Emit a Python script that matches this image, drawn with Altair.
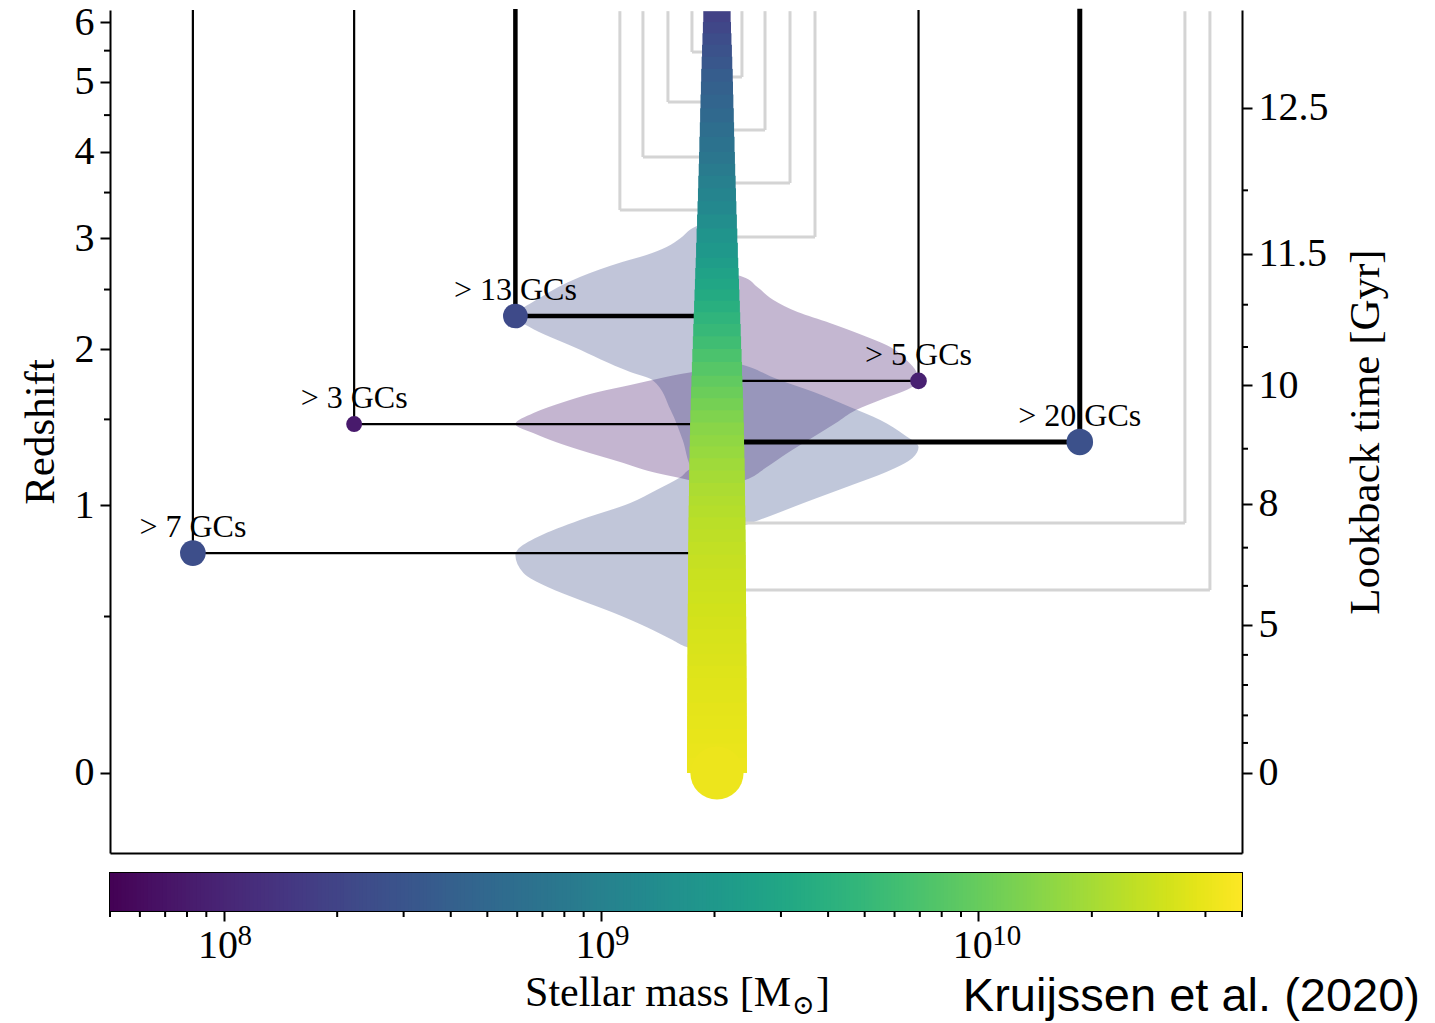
import numpy as np
import pandas as pd
import altair as alt

# ---------------- data ----------------
# Main progenitor: redshift samples down the trunk and log10 stellar mass there
trunk_z = [6.2, 6.0, 5.8, 5.6, 5.4, 5.2, 5.0, 4.8, 4.6, 4.4, 4.2, 4.0, 3.85, 3.7, 3.55,
           3.4, 3.25, 3.1, 2.95, 2.8, 2.7, 2.6, 2.5, 2.4, 2.3, 2.2, 2.1, 2.0, 1.9, 1.8,
           1.72, 1.64, 1.56, 1.48, 1.40, 1.33, 1.26, 1.19, 1.12, 1.05, 1.0, 0.94, 0.88,
           0.82, 0.76, 0.70, 0.65, 0.60, 0.55, 0.50, 0.45, 0.40, 0.36, 0.32, 0.28, 0.24,
           0.20, 0.16, 0.12, 0.08, 0.04, 0.0]
trunk_logm = [8.25, 8.30, 8.36, 8.42, 8.48, 8.54, 8.59, 8.64, 8.69, 8.74, 8.80, 8.86, 8.90,
              8.96, 9.01, 9.07, 9.13, 9.20, 9.27, 9.34, 9.39, 9.45, 9.50, 9.56, 9.62, 9.68,
              9.74, 9.81, 9.88, 9.94, 10.00, 10.05, 10.10, 10.15, 10.19, 10.22, 10.255,
              10.285, 10.315, 10.34, 10.36, 10.38, 10.40, 10.42, 10.435, 10.45, 10.465,
              10.475, 10.49, 10.50, 10.515, 10.525, 10.535, 10.545, 10.555, 10.565, 10.575,
              10.585, 10.59, 10.60, 10.61, 10.62]

# Accreted progenitors, left to right in the tree
prog_gcs = [7, 3, 13, 5, 20]
prog_slot = [-3.25, -2.25, -1.25, 1.25, 2.25]
prog_z = [0.768, 1.470, 2.268, 1.762, 1.358]
prog_mass = [2.5e8, 8.0e7, 2.3e8, 9.0e7, 2.7e8]

# Accretion-redshift probability densities, normalised to their peak
pdf_7gc_z = [1.239, 1.204, 1.153, 1.082, 1.013, 0.926, 0.843, 0.782, 0.759, 0.679,
             0.619, 0.566, 0.514, 0.460, 0.4115, 0.386, 0.358]
pdf_7gc_w = [0, 0.12, 0.18, 0.30, 0.43, 0.68, 0.89, 0.99, 1.0, 0.96,
             0.84, 0.68, 0.51, 0.35, 0.22, 0.15, 0]
pdf_3gc_z = [1.879, 1.827, 1.812, 1.769, 1.733, 1.684, 1.615, 1.542, 1.470, 1.407,
             1.358, 1.309, 1.239, 1.181, 1.137, 1.093]
pdf_3gc_w = [0, 0.12, 0.18, 0.32, 0.43, 0.59, 0.76, 0.91, 1.0, 0.90,
             0.80, 0.68, 0.48, 0.32, 0.14, 0]
pdf_13gc_z = [3.213, 3.105, 3.000, 2.908, 2.828, 2.759, 2.616, 2.424, 2.260, 2.176,
              2.016, 1.827, 1.769, 1.562, 1.370, 1.193, 1.109]
pdf_13gc_w = [0, 0.12, 0.18, 0.25, 0.35, 0.47, 0.68, 0.88, 1.0, 0.93,
              0.71, 0.43, 0.32, 0.23, 0.17, 0.12, 0]
pdf_5gc_z = [2.682, 2.616, 2.523, 2.407, 2.302, 2.2095, 2.111, 2.016, 1.916, 1.827,
             1.7545, 1.712, 1.629, 1.562, 1.477, 1.382, 1.292, 1.204, 1.137, 1.093]
pdf_5gc_w = [0, 0.13, 0.20, 0.28, 0.40, 0.56, 0.72, 0.86, 0.94, 0.99,
             1.0, 0.96, 0.81, 0.69, 0.59, 0.47, 0.35, 0.24, 0.14, 0]
pdf_20gc_z = [1.931, 1.879, 1.769, 1.684, 1.582, 1.496, 1.401, 1.3275, 1.262, 1.181,
              1.109, 1.013, 0.926, 0.9015, 0.867]
pdf_20gc_w = [0, 0.13, 0.31, 0.48, 0.66, 0.81, 0.93, 1.0, 0.97, 0.84,
              0.67, 0.43, 0.21, 0.14, 0]

# Minor (GC-poor) branches
minor_slot = [-0.155, 0.155, -0.304, 0.298, -0.459, 0.453, -0.602, 0.608, 2.902, 3.057]
minor_z = [5.477, 5.071, 4.690, 4.292, 3.934, 3.613, 3.301, 3.011, 0.911, 0.607]

# Axis ticks
redshift_ticks = [0, 1, 2, 3, 4, 5, 6]
redshift_minor = [0.5, 1.5, 2.5, 3.5, 4.5, 5.5]
lookback_labels = ["0", "5", "8", "10", "11.5", "12.5"]
lookback_z = [0.0, 0.469, 1.010, 1.730, 2.842, 4.603]
lookback_minor_z = [0.081, 0.161, 0.256, 0.358, 0.624, 0.793, 1.317, 2.016, 2.365, 3.526]
mass_ticks = [1e8, 1e9, 1e10]
mass_exponents = ["8", "9", "10"]
mass_minor = [5e7, 6e7, 7e7, 8e7, 9e7, 2e8, 3e8, 4e8, 5e8, 6e8, 7e8, 8e8, 9e8,
              2e9, 3e9, 4e9, 5e9, 6e9, 7e9, 8e9, 9e9, 2e10, 3e10, 4e10, 5e10]

CREDIT = "Kruijssen et al. (2020)"

# ---------------- styling ----------------
W, H = 1132, 843
CB_H = 38
SERIF = "Liberation Serif"
Z_TOP = 6.2
PDF_REACH = 1.25
THICK = {13: 4.5, 20: 5.0}
THIN = 2.2

yscale = alt.Scale(type="symlog", constant=1, domain=[-0.2304, 6.222], nice=False, zero=False)
xscale = alt.Scale(domain=[-3.764, 3.256], nice=False, zero=False)
cscale = alt.Scale(type="log", domain=[5e7, 5e10], scheme="viridis")
color_enc = alt.Color("mass:Q", scale=cscale, legend=None)

# ---------------- tables ----------------
pdfs = {7: (pdf_7gc_z, pdf_7gc_w), 3: (pdf_3gc_z, pdf_3gc_w), 13: (pdf_13gc_z, pdf_13gc_w),
        5: (pdf_5gc_z, pdf_5gc_w), 20: (pdf_20gc_z, pdf_20gc_w)}


def pdf_table(g, s, m):
    zs, ws = pdfs[g]
    return pd.DataFrame({"z": zs,
                         "xe": [float(np.sign(s)) * PDF_REACH * w for w in ws],
                         "x0": 0.0, "mass": m}).sort_values("z")


grey_rows = []
for s, z in zip(minor_slot, minor_z):
    grey_rows.append({"x": s, "x2": s, "z": z, "z2": Z_TOP})
    grey_rows.append({"x": s, "x2": 0.0, "z": z, "z2": z})
grey_df = pd.DataFrame(grey_rows)

black_rows = []
for g, s, z in zip(prog_gcs, prog_slot, prog_z):
    lw = THICK.get(g, THIN)
    black_rows.append({"x": s, "x2": s, "z": z, "z2": Z_TOP, "lw": lw})
    black_rows.append({"x": s, "x2": 0.0, "z": z, "z2": z, "lw": lw})
black_df = pd.DataFrame(black_rows)

# each trunk piece runs two samples down so the next piece overdraws its lower half
n = len(trunk_z)
trunk_rows = []
for i in range(n - 1):
    lm = 0.5 * (trunk_logm[i] + trunk_logm[i + 1])
    trunk_rows.append({"x0": 0.0, "za": trunk_z[i], "zb": trunk_z[min(i + 2, n - 1)],
                       "logm": lm, "mass": 10 ** lm})
trunk_df = pd.DataFrame(trunk_rows)
cap_df = pd.DataFrame({"x0": [0.0], "z": [trunk_z[-1]], "mass": [10 ** trunk_logm[-1]]})

prog_df = pd.DataFrame({"slot": prog_slot, "z": prog_z, "mass": prog_mass,
                        "label": [f"> {g} GCs" for g in prog_gcs]})

# ---------------- main panel ----------------
frame_x = alt.Axis(orient="bottom", ticks=False, labels=False, grid=False, title=None,
                   domain=True, domainColor="black", domainWidth=2)

violins = []
for k, (g, s, m) in enumerate(zip(prog_gcs, prog_slot, prog_mass)):
    violins.append(
        alt.Chart(pdf_table(g, s, m)).mark_area(orient="horizontal", interpolate="monotone",
                                                 opacity=0.32).encode(
            y=alt.Y("z:Q", scale=yscale, axis=None),
            x=alt.X("xe:Q", scale=xscale, stack=False, axis=frame_x if k == 0 else None),
            x2=alt.X2("x0:Q"),
            color=color_enc,
        )
    )

grey = alt.Chart(grey_df).mark_rule(color="#d4d4d4", strokeWidth=3).encode(
    x=alt.X("x:Q", scale=xscale, axis=None), x2="x2:Q",
    y=alt.Y("z:Q", scale=yscale, axis=None), y2="z2:Q",
)

black = alt.Chart(black_df).mark_rule(color="black", strokeCap="square").encode(
    x=alt.X("x:Q", scale=xscale, axis=None), x2="x2:Q",
    y=alt.Y("z:Q", scale=yscale, axis=None), y2="z2:Q",
    strokeWidth=alt.StrokeWidth("lw:Q", scale=None, legend=None),
)

trunk = alt.Chart(trunk_df).mark_rule(strokeCap="butt").encode(
    x=alt.X("x0:Q", scale=xscale, axis=None),
    y=alt.Y("za:Q", scale=yscale, axis=None), y2="zb:Q",
    strokeWidth=alt.StrokeWidth("logm:Q", scale=alt.Scale(domain=[8.25, 10.62], range=[27, 60]),
                                legend=None),
    color=color_enc,
)

cap = alt.Chart(cap_df).mark_circle(opacity=1, size=2827).encode(
    x=alt.X("x0:Q", scale=xscale, axis=None),
    y=alt.Y("z:Q", scale=yscale, axis=None),
    color=color_enc,
)

dots = alt.Chart(prog_df).mark_circle(opacity=1).encode(
    x=alt.X("slot:Q", scale=xscale, axis=None),
    y=alt.Y("z:Q", scale=yscale, axis=None),
    color=color_enc,
    size=alt.Size("mass:Q", scale=alt.Scale(domain=[7e7, 2.7e8], range=[230, 707], zero=False),
                  legend=None),
)

labels = alt.Chart(prog_df).mark_text(font=SERIF, fontSize=32, dy=-16, baseline="alphabetic",
                                      align="center", color="black").encode(
    x=alt.X("slot:Q", scale=xscale, axis=None),
    y=alt.Y("z:Q", scale=yscale, axis=None),
    text="label:N",
)

axis_common = dict(domain=True, domainColor="black", domainWidth=2, ticks=True, tickColor="black",
                   tickWidth=2, tickSize=10, grid=False, labelFont=SERIF, labelFontSize=40,
                   labelColor="black", labelPadding=6, titleFont=SERIF, titleFontSize=43,
                   titleFontWeight="normal", titleColor="black", labelOverlap=False)

left_ticks = alt.Chart(pd.DataFrame({"z": redshift_minor})).mark_rule(color="black", strokeWidth=2).encode(
    y=alt.Y("z:Q", scale=yscale,
            axis=alt.Axis(orient="left", values=redshift_ticks, format="d", title="Redshift",
                          titlePadding=12, **axis_common)),
    x=alt.value(-6), x2=alt.value(0),
)

lb_expr = " : ".join(f"abs(datum.value - {z}) < 0.01 ? '{lab}'"
                     for z, lab in zip(lookback_z, lookback_labels)) + " : ''"
right_ticks = alt.Chart(pd.DataFrame({"z": lookback_minor_z})).mark_rule(color="black", strokeWidth=2).encode(
    y=alt.Y("z:Q", scale=yscale,
            axis=alt.Axis(orient="right", values=lookback_z, labelExpr=lb_expr,
                          title="Lookback time [Gyr]", titleAngle=270, titleX=123, titleY=H / 2,
                          titleAlign="center", titleBaseline="middle", **axis_common)),
    x=alt.value(W), x2=alt.value(W + 6),
)

main = alt.layer(*violins, grey, black, trunk, cap, dots, labels, left_ticks, right_ticks).resolve_axis(
    x="independent", y="independent"
).properties(width=W, height=H, view=alt.ViewBackground(stroke="transparent"))

# ---------------- colour bar ----------------
steps = np.logspace(np.log10(5e7), np.log10(5e10), 301)
cb_df = pd.DataFrame({
    "m0": steps[:-1],
    "m1": np.r_[steps[2:], steps[-1]],
    "mc": np.sqrt(steps[:-1] * steps[1:]),
})
cx = alt.Scale(type="log", domain=[5e7, 5e10], nice=False, zero=False)

cb_rect = alt.Chart(cb_df).mark_rect().encode(
    x=alt.X("m0:Q", scale=cx,
            axis=alt.Axis(values=mass_ticks, labelExpr="'10'", domain=False, ticks=True,
                          tickColor="black", tickWidth=2, tickSize=10, grid=False,
                          labelFont=SERIF, labelFontSize=40, labelColor="black", labelPadding=4,
                          labelOffset=-6, labelOverlap=False, labelFlush=False, title=None)),
    x2="m1:Q",
    y=alt.value(0), y2=alt.value(CB_H),
    color=alt.Color("mc:Q", scale=cscale, legend=None),
)
cb_minor = alt.Chart(pd.DataFrame({"m": mass_minor})).mark_rule(color="black", strokeWidth=2).encode(
    x=alt.X("m:Q", scale=cx, axis=None),
    y=alt.value(CB_H), y2=alt.value(CB_H + 6),
)
cb_exp = alt.Chart(pd.DataFrame({"m": mass_ticks, "e": mass_exponents})).mark_text(
    font=SERIF, fontSize=29, align="left", baseline="alphabetic", dx=14, color="black"
).encode(x=alt.X("m:Q", scale=cx, axis=None), y=alt.value(72), text="e:N")

# colour-bar title, with the solar symbol set as a subscript
TITLE_X = 681
cb_title = alt.Chart(pd.DataFrame({"t": ["Stellar mass [M"]})).mark_text(
    font=SERIF, fontSize=42, align="right", baseline="alphabetic", color="black"
).encode(x=alt.value(TITLE_X), y=alt.value(133), text="t:N")
cb_sun = alt.Chart(pd.DataFrame({"t": ["⊙"]})).mark_text(
    font="DejaVu Serif", fontSize=27, align="left", baseline="alphabetic", color="black"
).encode(x=alt.value(TITLE_X + 1), y=alt.value(141), text="t:N")
cb_close = alt.Chart(pd.DataFrame({"t": ["]"]})).mark_text(
    font=SERIF, fontSize=42, align="left", baseline="alphabetic", color="black"
).encode(x=alt.value(TITLE_X + 25), y=alt.value(133), text="t:N")

credit = alt.Chart(pd.DataFrame({"t": [CREDIT]})).mark_text(
    font="Liberation Sans", fontSize=47, align="right", baseline="alphabetic", color="black"
).encode(x=alt.value(1310), y=alt.value(138), text="t:N")

cbar = alt.layer(cb_rect, cb_minor, cb_exp, cb_title, cb_sun, cb_close, credit).resolve_axis(
    x="independent"
).properties(width=W, height=CB_H, view=alt.ViewBackground(stroke="black", strokeWidth=2))

chart = alt.vconcat(main, cbar, spacing=18).properties(
    padding={"left": 18, "top": -3, "right": 5, "bottom": 0}
).configure(background="white")

chart.save("out.html", embed_options={"renderer": "svg", "actions": False})
